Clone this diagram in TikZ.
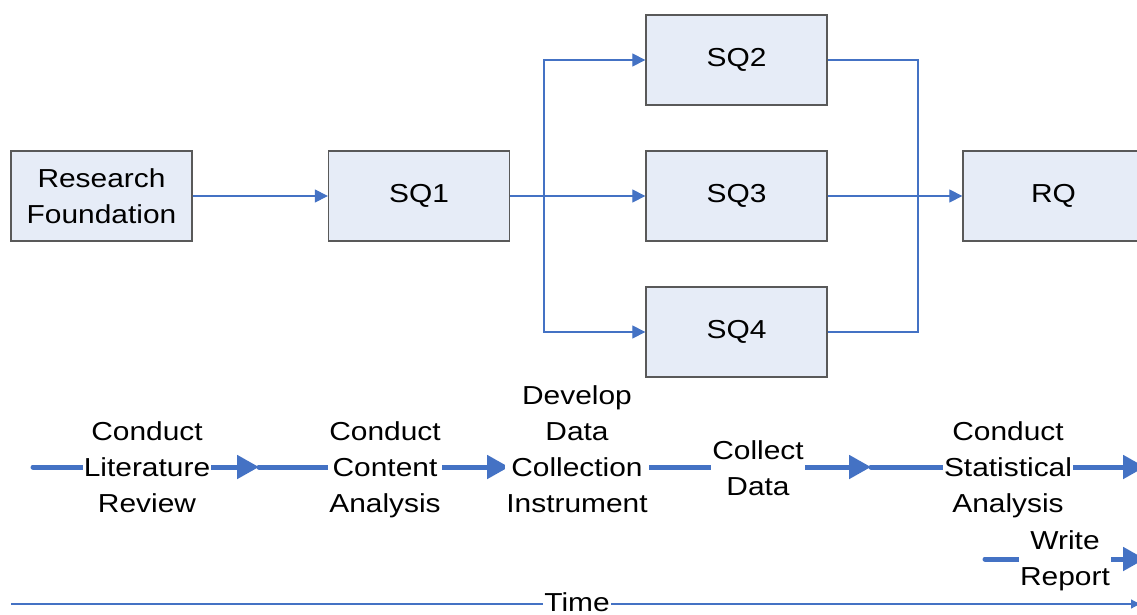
\documentclass[tikz,border=0pt]{standalone}
\usepackage{fontspec}
\setmainfont{Liberation Sans}[FakeStretch=1.15]
\usetikzlibrary{arrows.meta}
\definecolor{lineblue}{HTML}{4472C4}
\definecolor{boxfill}{HTML}{E6ECF7}
\definecolor{boxdraw}{HTML}{595959}
\begin{document}
\begin{tikzpicture}[x=1pt,y=-1pt,
  every node/.style={font=\fontsize{26}{36}\selectfont},
  box/.style={draw=boxdraw, line width=1.3pt, fill=boxfill, minimum width=181pt, minimum height=90pt, align=center, inner sep=0pt},
  conn/.style={draw=lineblue, line width=1.1pt},
  connarrow/.style={conn, -{Triangle[length=13pt,width=13pt]}},
  timearrow/.style={conn, -{Triangle[length=9pt,width=9pt]}},
  task/.style={draw=lineblue, line width=5pt, line cap=round, -{Triangle[length=22pt,width=23pt]}},
  lbl/.style={fill=white, align=center, inner xsep=1pt, inner ysep=0pt, text depth=6pt}
]
\useasboundingbox (0,0) rectangle (1137,615);
\clip (0,0) rectangle (1137,615);

% boxes
\node[box] (rf)  at (101.5,196) {Research\\Foundation};
\node[box] (sq1) at (419,196)   {SQ1};
\node[box] (sq2) at (736.5,60)  {SQ2};
\node[box] (sq3) at (736.5,196) {SQ3};
\node[box] (sq4) at (736.5,332) {SQ4};
\node[box] (rq)  at (1053.5,196) {RQ};

% connectors
\coordinate (split) at (544,196);
\coordinate (join) at (918,196);
\draw[connarrow] (rf) -- (sq1);
\draw[connarrow] (sq1) -- (sq3);
\draw[connarrow] (split) |- (sq2);
\draw[connarrow] (split) |- (sq4);
\draw[conn] (sq2) -| (join);
\draw[conn] (sq4) -| (join);
\draw[connarrow] (sq3) -- (rq);

% task timeline
\coordinate (t0) at (33,467);
\coordinate (t1) at (259,467);
\coordinate (t2) at (509,467);
\coordinate (t3) at (645,467);
\coordinate (t4) at (871,467);
\coordinate (t5) at (1145,467);
\coordinate (w0) at (985,559);
\coordinate (w1) at (1145,559);
\coordinate (m0) at (11,604);
\coordinate (m1) at (1140,604);

\draw[task] (t0) -- (t1);
\draw[task] (t1) -- (t2);
\draw[task] (t2) -- (t3);
\draw[task] (t3) -- (t4);
\draw[task] (t4) -- (t5);
\draw[task] (w0) -- (w1);
\draw[timearrow] (m0) -- (m1);

\node[lbl] (l1) at (147,470) {Conduct\\Literature\\Review};
\node[lbl] (l2) at (385,470) {Conduct\\Content\\Analysis};
\node[lbl] (l3) at (577,452.5) {Develop\\Data\\Collection\\Instrument};
\node[lbl] (l4) at (758,471) {Collect\\Data};
\node[lbl] (l5) at (1008,470) {Conduct\\Statistical\\Analysis};
\node[lbl] (l6) at (1065,561) {Write\\Report};
\node[lbl, text depth=0pt] (l7) at (577,602) {Time};
\end{tikzpicture}
\end{document}
